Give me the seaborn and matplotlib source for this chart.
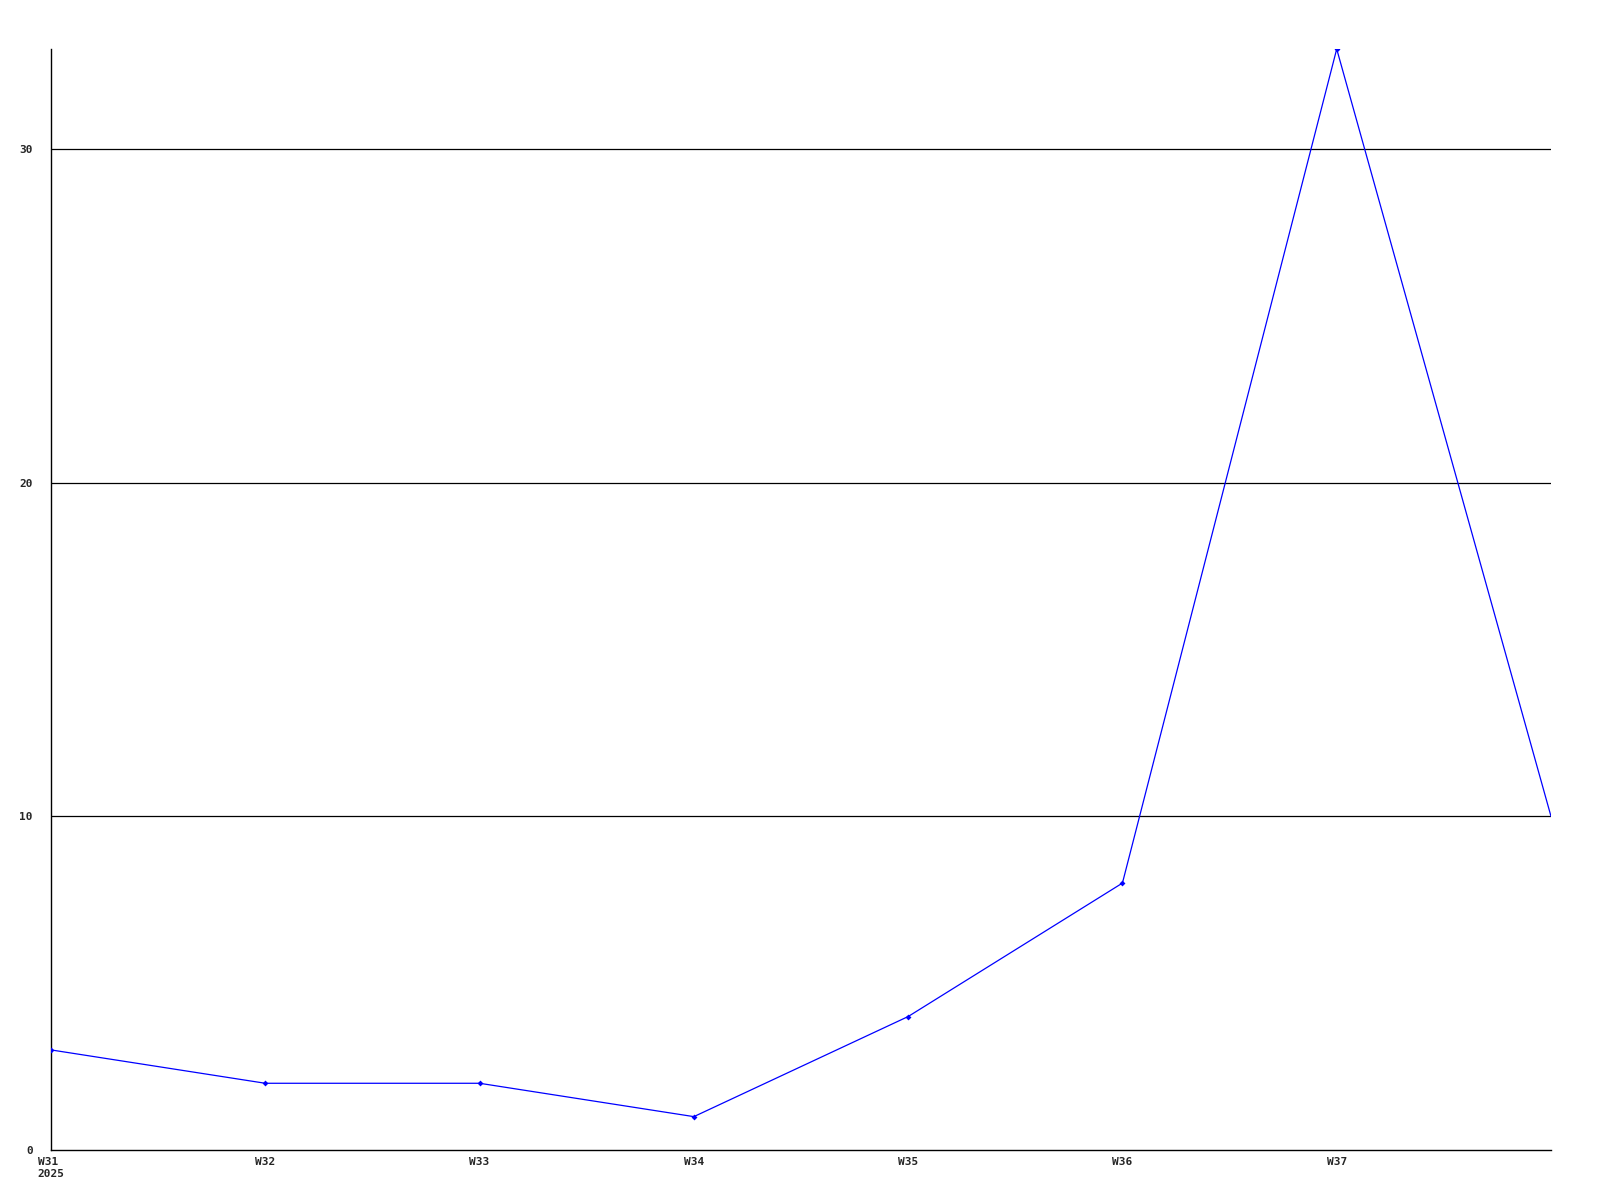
import matplotlib
matplotlib.use("Agg")
import matplotlib.pyplot as plt
import seaborn as sns

# =====================================
# Datos
# =====================================

weeks = ["W31", "W32", "W33", "W34", "W35", "W36", "W37", "W38"]
values = [3, 2, 2, 1, 4, 8, 33, 10]
tick_labels = ["W31\n2025", "W32", "W33", "W34", "W35", "W36", "W37"]
y_ticks = [0, 10, 20, 30]

# =====================================
# Figura
# =====================================

sns.set_style("white")
plt.rcParams["font.family"] = ["DejaVu Sans Mono"]

fig = plt.figure(figsize=(16, 12), dpi=100)
ax = fig.add_axes([51 / 1600, 1 - 1150 / 1200, 1500 / 1600, 1101 / 1200])

x = list(range(len(weeks)))

for yv in y_ticks[1:]:
    ax.axhline(yv, color="black", linewidth=0.9, zorder=1)

sns.lineplot(
    x=x,
    y=values,
    ax=ax,
    color="#0000ff",
    linewidth=0.9,
    marker="D",
    markersize=3,
    markeredgewidth=0,
    markevery=list(range(len(weeks) - 1)),
    zorder=3
)

ax.set_xlim(0, len(weeks) - 1)
ax.set_ylim(0, 33)

ax.set_xticks(x[:-1])
ax.set_xticklabels(tick_labels, fontsize=8, fontweight="bold",
                   ha="center", va="top", multialignment="left")

ax.set_yticks(y_ticks)
ax.set_yticklabels([str(v) for v in y_ticks], fontsize=8, fontweight="bold")

ax.tick_params(axis="x", length=0, pad=5)
ax.tick_params(axis="y", length=0, pad=13)

for side in ["top", "right"]:
    ax.spines[side].set_visible(False)
for side in ["left", "bottom"]:
    ax.spines[side].set_color("black")
    ax.spines[side].set_linewidth(1)

ax.set_xlabel("")
ax.set_ylabel("")

fig.savefig("out.png", dpi=100, facecolor="white")
